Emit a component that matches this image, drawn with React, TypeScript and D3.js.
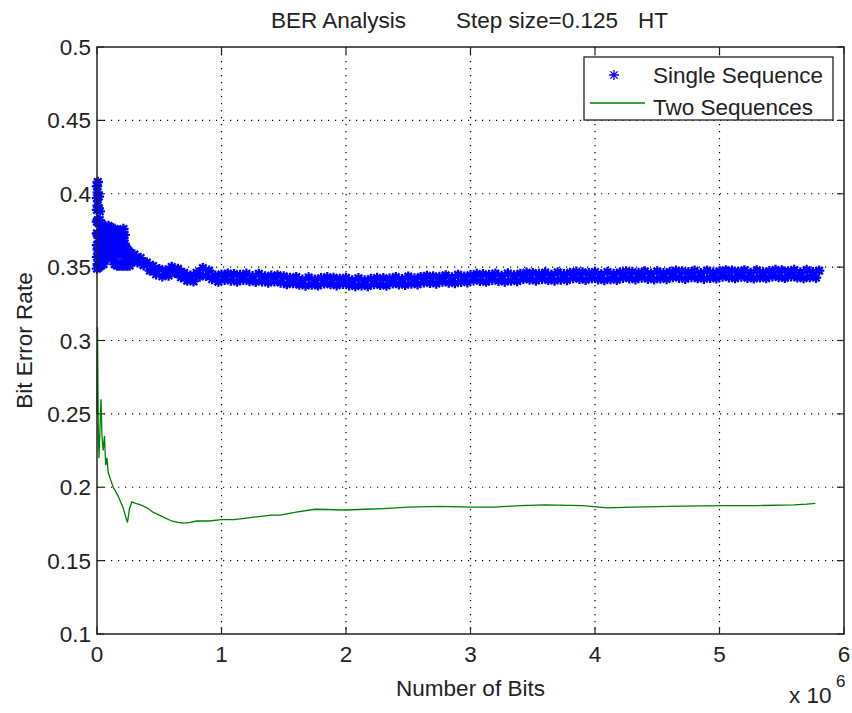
import React from "react";
import * as d3 from "d3";

// ---------------- DATA ----------------
const titleParts = ["BER Analysis", "Step size=0.125", "HT"];
const xLabel = "Number of Bits";
const yLabel = "Bit Error Rate";
const xTicks = [0, 1, 2, 3, 4, 5, 6];
const yTicks = [0.1, 0.15, 0.2, 0.25, 0.3, 0.35, 0.4, 0.45, 0.5];
const yTickLabels = ["0.1", "0.15", "0.2", "0.25", "0.3", "0.35", "0.4", "0.45", "0.5"];
const seriesNames = ["Single Sequence", "Two Sequences"];

// Single Sequence (x in millions of bits), early scattered section
const singleSeqEarly: [number, number][] = [
  [0, 0.349], [0, 0.357], [0, 0.365], [0, 0.373], [0, 0.381], [0, 0.389], [0, 0.397], [0, 0.405],
  [0.006, 0.352], [0.006, 0.362], [0.006, 0.372], [0.006, 0.382], [0.006, 0.392], [0.006, 0.401], [0.006, 0.408],
  [0.014, 0.35], [0.014, 0.36], [0.014, 0.37], [0.014, 0.38], [0.014, 0.39], [0.014, 0.398],
  [0.022, 0.353], [0.022, 0.363], [0.022, 0.373], [0.022, 0.382], [0.022, 0.388],
  [0.032, 0.351], [0.032, 0.361], [0.032, 0.37], [0.032, 0.378],
  [0.042, 0.354], [0.042, 0.364], [0.042, 0.374], [0.042, 0.379],
  [0.052, 0.352], [0.052, 0.362], [0.052, 0.372], [0.052, 0.377],
  [0.062, 0.355], [0.062, 0.365], [0.062, 0.375],
  [0.072, 0.357], [0.072, 0.367], [0.072, 0.377],
  [0.082, 0.359], [0.082, 0.369], [0.082, 0.376],
  [0.092, 0.362], [0.092, 0.371], [0.092, 0.378],
  [0.102, 0.364], [0.102, 0.372], [0.102, 0.377],
  [0.112, 0.363], [0.112, 0.371], [0.112, 0.377],
  [0.122, 0.358], [0.122, 0.367], [0.122, 0.376],
  [0.132, 0.354], [0.132, 0.363], [0.132, 0.372],
  [0.142, 0.352], [0.142, 0.361], [0.142, 0.37], [0.142, 0.376],
  [0.152, 0.352], [0.152, 0.36], [0.152, 0.368], [0.152, 0.375],
  [0.162, 0.351], [0.162, 0.359], [0.162, 0.367], [0.162, 0.374],
  [0.172, 0.352], [0.172, 0.36], [0.172, 0.368], [0.172, 0.373],
  [0.182, 0.351], [0.182, 0.359], [0.182, 0.366], [0.182, 0.372],
  [0.192, 0.352], [0.192, 0.36], [0.192, 0.367], [0.192, 0.374],
  [0.202, 0.351], [0.202, 0.359], [0.202, 0.366], [0.202, 0.372],
  [0.212, 0.352], [0.212, 0.36], [0.212, 0.368], [0.212, 0.376],
  [0.222, 0.351], [0.222, 0.359], [0.222, 0.366], [0.222, 0.372],
  [0.232, 0.352], [0.232, 0.358], [0.232, 0.363],
  [0.242, 0.351], [0.242, 0.357], [0.242, 0.362],
  [0.252, 0.352], [0.252, 0.358], [0.252, 0.361],
  [0.262, 0.351], [0.262, 0.356], [0.262, 0.36],
  [0.275, 0.353], [0.275, 0.358],
];

// Single Sequence, settled section sampled every 0.025e6 bits from 0.3e6
const singleSeqFlatStart = 0.3;
const singleSeqFlatStep = 0.025;
const singleSeqFlatY = [
  0.3586, 0.3533, 0.3562, 0.3513, 0.3531, 0.3476, 0.3508, 0.3451,
  0.3486, 0.3438, 0.3477, 0.3443, 0.3501, 0.3461, 0.3488, 0.3431,
  0.3461, 0.3408, 0.3442, 0.3403, 0.3461, 0.3436, 0.3493, 0.3441,
  0.3476, 0.3418, 0.3442, 0.3401, 0.3449, 0.3414, 0.3456, 0.3409,
  0.3452, 0.3402, 0.3446, 0.3413, 0.3455, 0.3405, 0.3438, 0.34,
  0.3454, 0.3404, 0.3436, 0.3395, 0.3441, 0.3404, 0.3444, 0.3395,
  0.3437, 0.3384, 0.3426, 0.3391, 0.3432, 0.3381, 0.3414, 0.3375,
  0.3429, 0.3381, 0.3415, 0.3376, 0.3424, 0.3389, 0.3431, 0.3384,
  0.3427, 0.3377, 0.342, 0.3386, 0.3427, 0.3377, 0.3409, 0.3371,
  0.3424, 0.3376, 0.341, 0.3371, 0.3419, 0.3384, 0.3426, 0.3379,
  0.3424, 0.3375, 0.3421, 0.3389, 0.3432, 0.3383, 0.3417, 0.338,
  0.3435, 0.3388, 0.3422, 0.3383, 0.3432, 0.3397, 0.344, 0.3393,
  0.3437, 0.3388, 0.3433, 0.3401, 0.3444, 0.3395, 0.3429, 0.3392,
  0.3447, 0.34, 0.3435, 0.3397, 0.3445, 0.3411, 0.3453, 0.3407,
  0.3451, 0.3401, 0.3446, 0.3414, 0.3456, 0.3407, 0.344, 0.3402,
  0.3457, 0.3409, 0.3444, 0.3405, 0.3454, 0.342, 0.3462, 0.3416,
  0.3459, 0.3409, 0.3453, 0.3421, 0.3463, 0.3413, 0.3447, 0.3409,
  0.3464, 0.3416, 0.3451, 0.3412, 0.3461, 0.3426, 0.3468, 0.3421,
  0.3464, 0.3414, 0.3458, 0.3425, 0.3467, 0.3417, 0.345, 0.3412,
  0.3467, 0.3419, 0.3453, 0.3414, 0.3463, 0.3428, 0.3471, 0.3424,
  0.3467, 0.3417, 0.3461, 0.3429, 0.3471, 0.3421, 0.3455, 0.3417,
  0.3471, 0.3423, 0.3458, 0.3419, 0.3467, 0.3432, 0.3475, 0.3428,
  0.3471, 0.3421, 0.3465, 0.3433, 0.3475, 0.3425, 0.3459, 0.3421,
  0.3476, 0.3428, 0.3462, 0.3423, 0.3471, 0.3436, 0.3478, 0.3431,
  0.3475, 0.3425, 0.3469, 0.3436, 0.3478, 0.3428, 0.3461, 0.3423,
  0.3478, 0.343, 0.3464, 0.3425, 0.3473, 0.3438, 0.348, 0.3433,
  0.3477, 0.3427, 0.3471, 0.3438, 0.348, 0.343, 0.3463, 0.3425,
  0.348, 0.3432, 0.3466, 0.3428, 0.3476,
];

// Two Sequences (x in millions of bits)
const twoSeqX = [
  0, 0.004, 0.01, 0.016, 0.024, 0.032, 0.04, 0.05, 0.06, 0.07, 0.08, 0.09, 0.11, 0.13, 0.15,
  0.17, 0.19, 0.21, 0.23, 0.245, 0.26, 0.28, 0.31, 0.35, 0.4, 0.45, 0.5, 0.55, 0.6, 0.65,
  0.7, 0.75, 0.8, 0.9, 1.0, 1.1, 1.2, 1.3, 1.4, 1.47, 1.6, 1.75, 2.0, 2.15, 2.3, 2.5, 2.75,
  3.0, 3.2, 3.4, 3.6, 3.9, 4.1, 4.3, 4.6, 5.0, 5.3, 5.6, 5.7, 5.77,
];
const twoSeqY = [
  0.25, 0.309, 0.24, 0.22, 0.24, 0.26, 0.235, 0.225, 0.235, 0.215, 0.22, 0.21, 0.205, 0.2, 0.197,
  0.194, 0.19, 0.186, 0.18, 0.176, 0.185, 0.19, 0.189, 0.188, 0.186, 0.183, 0.181, 0.179, 0.177, 0.176,
  0.1755, 0.176, 0.177, 0.177, 0.178, 0.178, 0.179, 0.18, 0.181, 0.181, 0.183, 0.185, 0.1845, 0.185, 0.1855, 0.1865, 0.187,
  0.1865, 0.1865, 0.1875, 0.188, 0.1875, 0.186, 0.1865, 0.187, 0.1875, 0.1875, 0.188, 0.1885, 0.189,
];

// ---------------- CHART ----------------
const W = 852;
const H = 713;
const left = 97, right = 844, top = 47, bottom = 634;
const FONT = "'Liberation Sans', Arial, Helvetica, sans-serif";
const FS = 22.5;

export default function App() {
  const x = d3.scaleLinear().domain([0, 6]).range([left, right]);
  const y = d3.scaleLinear().domain([0.1, 0.5]).range([bottom, top]);

  const singlePts: [number, number][] = singleSeqEarly.concat(
    singleSeqFlatY.map((v, i) => [singleSeqFlatStart + i * singleSeqFlatStep, v] as [number, number])
  );

  const starAt = (cx: number, cy: number, r: number) => {
    const d2 = r * 0.72;
    return `M${cx - r},${cy}H${cx + r}M${cx},${cy - r}V${cy + r}M${cx - d2},${cy - d2}L${cx + d2},${cy + d2}M${cx - d2},${cy + d2}L${cx + d2},${cy - d2}`;
  };
  const starPath = singlePts.map(([a, b]) => starAt(x(a), y(b), 5.2)).join("");

  const line = d3
    .line<number>()
    .x((_, i) => x(twoSeqX[i]))
    .y((v) => y(v));
  const greenPath = line(twoSeqY) || "";

  const tickLen = 7;
  const legend = { x0: 584, x1: 833, y0: 57, y1: 120 };

  return (
    <div style={{ position: "fixed", left: 0, top: 0, width: W, height: H, background: "#fff" }}>
      <svg width={W} height={H} style={{ display: "block" }} fontFamily={FONT}>
        <rect x={0} y={0} width={W} height={H} fill="#fff" />
        {/* grid */}
        {xTicks.slice(1, -1).map((t) => (
          <line key={"gx" + t} x1={x(t)} x2={x(t)} y1={top} y2={bottom} stroke="#000" strokeWidth={1.2}
            strokeDasharray="1.2,5.8" />
        ))}
        {yTicks.slice(1, -1).map((t) => (
          <line key={"gy" + t} x1={left} x2={right} y1={y(t)} y2={y(t)} stroke="#000" strokeWidth={1.2}
            strokeDasharray="1.2,5.8" />
        ))}
        {/* ticks */}
        {xTicks.map((t) => (
          <g key={"tx" + t}>
            <line x1={x(t)} x2={x(t)} y1={bottom} y2={bottom - tickLen} stroke="#222" strokeWidth={1.2} />
            <line x1={x(t)} x2={x(t)} y1={top} y2={top + tickLen} stroke="#222" strokeWidth={1.2} />
            <text x={x(t)} y={662} textAnchor="middle" fontSize={FS} fill="#222">{t}</text>
          </g>
        ))}
        {yTicks.map((t, i) => (
          <g key={"ty" + t}>
            <line x1={left} x2={left + tickLen} y1={y(t)} y2={y(t)} stroke="#222" strokeWidth={1.2} />
            <line x1={right} x2={right - tickLen} y1={y(t)} y2={y(t)} stroke="#222" strokeWidth={1.2} />
            <text x={91} y={y(t) + 8} textAnchor="end" fontSize={FS} fill="#222">{yTickLabels[i]}</text>
          </g>
        ))}
        {/* series */}
        <path d={greenPath} fill="none" stroke="#008000" strokeWidth={1.3} />
        <path d={starPath} fill="none" stroke="#0000ff" strokeWidth={2.3} />
        {/* axes box */}
        <rect x={left} y={top} width={right - left} height={bottom - top} fill="none" stroke="#222" strokeWidth={1.5} />
        {/* legend */}
        <rect x={legend.x0} y={legend.y0} width={legend.x1 - legend.x0} height={legend.y1 - legend.y0}
          fill="#fff" stroke="#222" strokeWidth={1.3} />
        <path d={starAt(614, 75, 5)} fill="none" stroke="#0000ff" strokeWidth={1.3} />
        <text x={653} y={83} fontSize={FS} fill="#222">{seriesNames[0]}</text>
        <line x1={590} x2={645} y1={103} y2={103} stroke="#008000" strokeWidth={1.3} />
        <text x={653} y={115} fontSize={FS} fill="#222">{seriesNames[1]}</text>
        {/* title */}
        <text x={271} y={28} fontSize={FS} fill="#222">{titleParts[0]}</text>
        <text x={456} y={28} fontSize={FS} fill="#222">{titleParts[1]}</text>
        <text x={638} y={28} fontSize={FS} fill="#222">{titleParts[2]}</text>
        {/* axis labels */}
        <text x={(left + right) / 2} y={696} textAnchor="middle" fontSize={FS} fill="#222">{xLabel}</text>
        <text transform={`translate(32, ${(top + bottom) / 2}) rotate(-90)`} textAnchor="middle" fontSize={FS} fill="#222">
          {yLabel}
        </text>
        <text x={789} y={703} fontSize={FS} fill="#222">x 10</text>
        <text x={836} y={687} fontSize={17} fill="#222">6</text>
      </svg>
    </div>
  );
}
